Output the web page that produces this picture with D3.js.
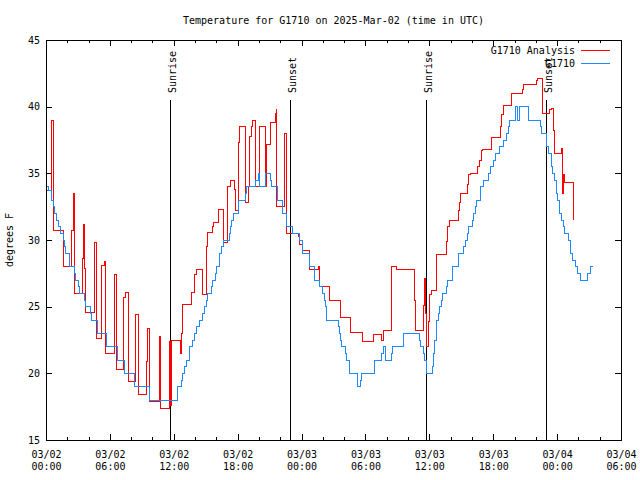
<!DOCTYPE html>
<html>
<head>
<meta charset="utf-8">
<script src="https://cdn.jsdelivr.net/npm/d3@7"></script>
<style>
  html, body { margin: 0; padding: 0; background: #fff; }
  svg { display: block; }
  text { font-family: "DejaVu Sans Mono", "Liberation Mono", monospace; font-size: 10px; fill: #000; }
</style>
</head>
<body>
<svg id="chart" width="640" height="480"></svg>
<script>
// ---- data (hours since 03/02 00:00 UTC, degrees F) ----
const obsHours = [0,0.19,0.50,0.69,0.80,1.00,1.13,1.38,1.69,1.76,1.85,2.16,2.25,2.63,2.79,3.01,3.10,3.63,3.73,4.18,4.29,4.86,5.70,6.73,7.35,8.29,9.70,12.33,12.74,12.84,13.05,13.21,13.46,13.52,13.78,13.90,14.15,14.40,14.72,14.93,15.09,15.19,15.50,15.62,15.94,16.03,16.25,16.34,16.50,16.65,17.19,17.28,17.44,17.59,18.06,18.11,18.75,18.83,19.72,19.94,20.03,20.66,21.10,21.20,21.76,22.23,22.60,23.17,23.85,24.11,24.73,24.79,25.17,25.26,25.73,25.98,26.11,26.29,26.36,27.45,27.54,27.70,27.77,28.17,28.24,28.48,29.27,29.55,29.65,30.83,31.53,31.68,31.93,32.49,32.56,33.55,35.12,35.19,35.43,35.50,35.69,35.75,36.30,36.37,36.47,36.53,36.69,36.84,36.93,37.16,37.25,37.63,37.72,38.19,38.72,38.78,39.19,39.35,39.60,39.66,40.07,40.13,40.38,40.45,40.82,41.13,41.54,41.76,42.01,42.26,42.57,42.92,43.26,43.39,43.57,44.11,44.26,44.45,45.33,46.46,46.55,47.02,47.17,47.49,47.58,47.80,47.96,48.02,48.20,48.43,48.58,48.74,49.05,49.26,49.49,49.68,49.96,50.15,50.90,51.13,51.37];
const obsTemps = [34.0,33.7,33.0,32.5,32.0,31.5,31.0,30.5,30.0,29.5,29.0,28.5,28.0,27.5,27.0,26.5,26.0,25.5,25.0,24.5,24.0,23.0,22.0,21.0,20.0,19.0,18.0,19.0,19.5,20.0,20.5,21.0,21.5,22.0,22.5,23.0,23.5,24.0,24.5,25.0,25.5,26.0,26.5,27.0,27.5,28.0,28.5,29.0,29.5,30.0,30.5,31.0,31.5,32.0,32.5,33.0,33.5,34.0,34.5,35.0,34.0,35.0,34.5,34.0,33.0,32.0,31.0,30.5,30.0,29.0,28.5,28.0,27.5,27.0,26.5,26.0,25.5,25.0,24.0,23.5,23.0,22.5,22.0,21.5,21.0,20.0,19.0,19.5,20.0,21.0,21.5,22.0,21.0,21.5,22.0,23.0,22.5,22.0,21.5,21.0,20.5,20.0,20.5,21.5,22.0,22.5,24.0,24.5,25.0,25.5,26.0,26.5,27.0,28.0,28.5,29.0,29.5,30.0,30.5,31.0,31.5,32.0,32.5,33.0,34.0,34.5,35.0,35.5,36.0,36.5,37.0,37.5,38.0,38.5,39.0,40.0,39.0,40.0,39.0,38.5,38.0,37.0,36.5,35.5,35.0,34.5,33.5,33.0,32.0,31.5,31.0,30.5,30.0,29.0,28.5,28.0,27.5,27.0,27.5,28.0,28.0];

const anaHours = [0,0.47,0.56,0.66,0.70,1.69,2.44,2.54,2.66,3.41,3.50,3.62,3.68,4.60,4.70,4.76,5.23,5.45,5.63,6.39,6.64,7.28,7.47,7.73,8.42,8.71,9.46,9.51,9.70,10.64,10.77,11.58,11.71,11.80,12.65,12.74,12.84,13.68,13.90,13.99,14.15,14.68,15.09,15.19,15.62,15.71,16.18,16.65,17.03,17.06,17.37,17.66,17.75,18.06,18.15,18.69,18.75,19.00,19.09,19.32,19.39,19.66,20.03,20.57,20.73,21.13,21.51,21.60,21.66,22.42,22.57,23.67,23.79,23.85,24.11,24.73,25.57,25.67,25.71,26.67,27.66,28.64,29.69,30.71,31.53,31.68,32.45,32.87,34.61,34.72,35.45,35.50,35.64,35.73,35.90,35.97,36.06,36.22,36.67,37.63,37.70,37.85,38.72,38.81,38.93,39.56,39.66,39.82,40.50,40.69,40.92,41.01,41.85,42.70,42.79,42.95,43.01,43.67,43.73,44.77,44.82,46.02,46.14,46.64,47.26,47.49,47.64,47.80,48.43,48.49,48.64,48.74,49.52,49.58];
const anaTemps = [33.7,36.3,39.0,34.9,30.7,28.0,30.7,33.5,26.0,28.6,31.2,27.9,24.6,29.8,27.1,22.6,28.1,28.4,21.5,27.4,20.3,25.7,26.1,19.4,24.4,18.4,20.9,23.4,17.9,22.8,17.4,22.4,17.6,22.5,21.5,23.0,25.2,26.1,27.0,27.4,27.8,25.9,29.5,30.6,31.0,31.3,32.3,29.8,32.0,34.0,34.5,33.8,32.2,37.3,38.5,36.6,32.8,34.0,37.8,38.5,39.0,34.0,38.5,34.0,37.2,38.8,39.5,39.8,32.5,38.0,30.5,30.3,30.0,29.7,29.2,27.8,28.0,27.2,26.5,25.5,24.2,23.1,22.4,22.9,22.5,23.2,28.0,27.8,25.5,23.2,25.1,27.1,24.5,22.0,23.9,24.7,25.9,26.2,28.9,29.9,31.0,31.5,32.2,32.8,33.5,34.2,34.9,35.0,35.5,36.0,36.7,36.8,37.7,38.5,39.4,39.7,40.1,40.5,41.0,41.3,41.7,42.0,42.1,39.5,39.8,39.9,38.2,36.5,36.9,33.5,34.9,34.3,32.9,31.5];

const eventLabels = ["Sunrise", "Sunset", "Sunrise", "Sunset"];
const eventHours = [11.67, 22.94, 35.71, 46.98];
const eventTop = 40.5;

const xTickHours = [0, 6, 12, 18, 24, 30, 36, 42, 48, 54];
const xTickDates = ["03/02", "03/02", "03/02", "03/02", "03/03", "03/03", "03/03", "03/03", "03/04", "03/04"];
const xTickClock = ["00:00", "06:00", "12:00", "18:00", "00:00", "06:00", "12:00", "18:00", "00:00", "06:00"];
const yTicks = [15, 20, 25, 30, 35, 40, 45];

const seriesNames = ["G1710 Analysis", "G1710"];
const seriesColors = ["#ff0000", "#1e88ff"];

// ---- layout ----
const L = 46, R = 621, T = 40, B = 440;
const svg = d3.select("#chart");
const x = d3.scaleLinear().domain([0, 54]).range([L, R]);
const y = d3.scaleLinear().domain([15, 45]).range([B, T]);

// title
svg.append("text").attr("x", (L + R) / 2).attr("y", 24).attr("text-anchor", "middle")
  .text("Temperature for G1710 on 2025-Mar-02 (time in UTC)");

// y label
svg.append("text").attr("transform", `translate(13,${(T + B) / 2}) rotate(-90)`)
  .attr("text-anchor", "middle").text("degrees F");

// axes ticks (inward, mirrored)
const minorX = d3.range(0, 55, 2).filter(h => h % 6 !== 0);
const gTicks = svg.append("g").attr("stroke", "#000").attr("stroke-width", 1).attr("shape-rendering", "crispEdges");
xTickHours.forEach(h => {
  const px = Math.round(x(h)) + 0.5;
  gTicks.append("line").attr("x1", px).attr("x2", px).attr("y1", B).attr("y2", B - 6);
  gTicks.append("line").attr("x1", px).attr("x2", px).attr("y1", T).attr("y2", T + 6);
});
minorX.forEach(h => {
  const px = Math.round(x(h)) + 0.5;
  gTicks.append("line").attr("x1", px).attr("x2", px).attr("y1", B).attr("y2", B - 3);
  gTicks.append("line").attr("x1", px).attr("x2", px).attr("y1", T).attr("y2", T + 3);
});
yTicks.forEach(v => {
  const py = Math.round(y(v)) + 0.5;
  gTicks.append("line").attr("x1", L).attr("x2", L + 6).attr("y1", py).attr("y2", py);
  gTicks.append("line").attr("x1", R).attr("x2", R - 6).attr("y1", py).attr("y2", py);
});

// y tick labels via axis
const yAxis = d3.axisLeft(y).tickValues(yTicks).tickSize(0).tickPadding(6).tickFormat(d3.format("d"));
const gy = svg.append("g").attr("transform", `translate(${L},0)`).call(yAxis);
gy.select(".domain").remove();
gy.selectAll("text").attr("font-family", "DejaVu Sans Mono").attr("font-size", 10).attr("fill", "#000");

// x tick labels (two lines)
const xAxis = d3.axisBottom(x).tickValues(xTickHours).tickSize(0).tickFormat(() => "");
const gx = svg.append("g").attr("transform", `translate(0,${B})`).call(xAxis);
gx.select(".domain").remove();
gx.selectAll(".tick").each(function(d, i) {
  const t = d3.select(this).append("text").attr("text-anchor", "middle")
    .attr("font-family", "DejaVu Sans Mono").attr("font-size", 10).attr("fill", "#000");
  t.append("tspan").attr("x", 0).attr("y", 18).text(xTickDates[i]);
  t.append("tspan").attr("x", 0).attr("y", 30).text(xTickClock[i]);
});

// sunrise/sunset markers
eventHours.forEach((h, i) => {
  const px = Math.round(x(h)) + 0.5;
  svg.append("line").attr("x1", px).attr("x2", px).attr("y1", y(eventTop)).attr("y2", B)
    .attr("stroke", "#000").attr("stroke-width", 1).attr("shape-rendering", "crispEdges");
  svg.append("text").attr("transform", `translate(${px + 5.5},${y(eventTop) - 7}) rotate(-90)`)
    .attr("text-anchor", "start").text(eventLabels[i]);
});

// series
const line = d3.line().x(d => x(d[0])).y(d => y(d[1])).curve(d3.curveStepAfter);
const anaData = anaHours.map((h, i) => [h, anaTemps[i]]);
const obsData = obsHours.map((h, i) => [h, obsTemps[i]]);
svg.append("path").datum(anaData).attr("d", line).attr("fill", "none")
  .attr("stroke", seriesColors[0]).attr("stroke-width", 1).attr("shape-rendering", "crispEdges");
svg.append("path").datum(obsData).attr("d", line).attr("fill", "none")
  .attr("stroke", seriesColors[1]).attr("stroke-width", 1).attr("shape-rendering", "crispEdges");

// frame
svg.append("rect").attr("x", L + 0.5).attr("y", T + 0.5).attr("width", R - L).attr("height", B - T)
  .attr("fill", "none").attr("stroke", "#000").attr("stroke-width", 1).attr("shape-rendering", "crispEdges");

// legend
seriesNames.forEach((name, i) => {
  const ly = 50.5 + i * 13;
  svg.append("text").attr("x", 575).attr("y", ly + 3.5).attr("text-anchor", "end").text(name);
  svg.append("line").attr("x1", 581).attr("x2", 610).attr("y1", ly).attr("y2", ly)
    .attr("stroke", seriesColors[i]).attr("stroke-width", 1).attr("shape-rendering", "crispEdges");
});
</script>
</body>
</html>
